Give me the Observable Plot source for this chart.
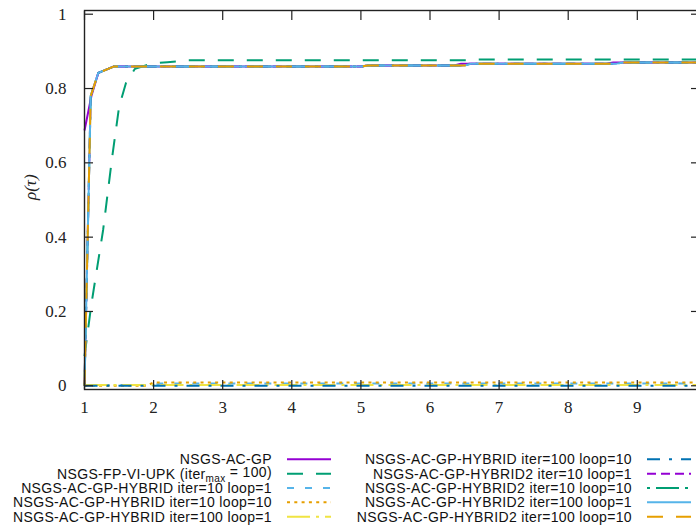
<!DOCTYPE html>
<html>
<head>
<meta charset="utf-8">
<script src="https://cdn.jsdelivr.net/npm/d3@7"></script>
<script src="https://cdn.jsdelivr.net/npm/@observablehq/plot@0.6"></script>
<style>
  html, body { margin: 0; padding: 0; background: #fff; }
  #wrap { width: 696px; height: 531px; overflow: hidden; position: relative; }
  #wrap svg { display: block; }
</style>
</head>
<body>
<div id="wrap"></div>
<script>
// ---- data ----
const seriesNames = [
  "NSGS-AC-GP",
  "NSGS-FP-VI-UPK (iter_max = 100)",
  "NSGS-AC-GP-HYBRID iter=10 loop=1",
  "NSGS-AC-GP-HYBRID iter=10 loop=10",
  "NSGS-AC-GP-HYBRID iter=100 loop=1",
  "NSGS-AC-GP-HYBRID iter=100 loop=10",
  "NSGS-AC-GP-HYBRID2 iter=10 loop=1",
  "NSGS-AC-GP-HYBRID2 iter=10 loop=10",
  "NSGS-AC-GP-HYBRID2 iter=100 loop=1",
  "NSGS-AC-GP-HYBRID2 iter=100 loop=10"
];
const tauACGP = [1, 1.1, 1.2, 1.42, 5.0, 5.1, 6.35, 6.45, 8.55, 8.65, 9.9];
const rhoACGP = [0.687, 0.78, 0.842, 0.859, 0.859, 0.862, 0.862, 0.867, 0.867, 0.870, 0.870];
const tauFPVI = [1, 1.1, 1.27, 1.4, 1.5, 1.6, 1.73, 1.97, 2.2, 2.5, 6.6, 6.7, 9.9];
const rhoFPVI = [0.08, 0.22, 0.42, 0.615, 0.75, 0.815, 0.853, 0.867, 0.871, 0.876, 0.876, 0.878, 0.878];
const tauH10_1 = [1, 2.0, 2.1, 9.9];
const rhoH10_1 = [0.002, 0.002, 0.006, 0.006];
const tauH10_10 = [1, 1.9, 2.0, 9.9];
const rhoH10_10 = [0.0, 0.0, 0.009, 0.009];
const tauH100_1 = [1, 9.9];
const rhoH100_1 = [0.002, 0.002];
const tauH100_10 = [1, 9.9];
const rhoH100_10 = [0.0, 0.0];
const tauH2_10_1 = [1, 1.09, 1.2, 1.42, 5.0, 5.1, 6.45, 6.55, 8.65, 8.75, 9.9];
const rhoH2_10_1 = [0.0, 0.78, 0.842, 0.859, 0.859, 0.862, 0.862, 0.867, 0.867, 0.870, 0.870];
const tauH2_10_10 = [1, 1.09, 1.2, 1.42, 5.0, 5.1, 6.5, 6.6, 8.7, 8.8, 9.9];
const rhoH2_10_10 = [0.0, 0.78, 0.842, 0.859, 0.859, 0.862, 0.862, 0.867, 0.867, 0.870, 0.870];
const tauH2_100_1 = [1, 1.09, 1.2, 1.42, 5.0, 5.1, 6.5, 6.6, 8.7, 8.8, 9.9];
const rhoH2_100_1 = [0.0, 0.78, 0.842, 0.859, 0.859, 0.862, 0.862, 0.867, 0.867, 0.870, 0.870];
const tauH2_100_10 = [1, 1.09, 1.2, 1.42, 5.0, 5.1, 6.5, 6.6, 8.7, 8.8, 9.9];
const rhoH2_100_10 = [0.0, 0.78, 0.842, 0.859, 0.859, 0.862, 0.862, 0.867, 0.867, 0.870, 0.870];
const xTicks = [1, 2, 3, 4, 5, 6, 7, 8, 9];
const yTicks = [0, 0.2, 0.4, 0.6, 0.8, 1];

// ---- styles ----
const seriesColors = ["#9400d3", "#009e73", "#56b4e9", "#e69f00", "#f0e442", "#0072b2", "#9400d3", "#009e73", "#56b4e9", "#e69f00"];
const seriesDash = [null, "16,13", "7,11", "3,4.3", "23,6,3,6", "13,9,3,9", "9,5", "3,6,23,6", null, "16,13"];

const taus = [tauACGP, tauFPVI, tauH10_1, tauH10_10, tauH100_1, tauH100_10, tauH2_10_1, tauH2_10_10, tauH2_100_1, tauH2_100_10];
const rhos = [rhoACGP, rhoFPVI, rhoH10_1, rhoH10_10, rhoH100_1, rhoH100_10, rhoH2_10_1, rhoH2_10_10, rhoH2_100_1, rhoH2_100_10];

const tables = taus.map((t, i) => t.map((x, j) => ({tau: x, rho: rhos[i][j], name: seriesNames[i]})));

const lineMarks = tables.map((tb, i) => Plot.line(tb, {
  x: "tau", y: "rho", stroke: seriesColors[i], strokeWidth: 2,
  strokeDasharray: seriesDash[i] || undefined, strokeLinecap: "butt", strokeLinejoin: "round"
}));

const serif = "'Liberation Serif', 'DejaVu Serif', serif";

const chart = Plot.plot({
  width: 696,
  height: 428,
  marginLeft: 84,
  marginRight: -3,
  marginTop: 10,
  marginBottom: 39,
  style: {fontFamily: serif, fontSize: "17px", color: "#222", background: "#fff", overflow: "hidden"},
  x: {domain: [1, 9.9]},
  y: {domain: [-0.01, 1.01]},
  marks: [
    ...lineMarks,
    Plot.frame({stroke: "#222", strokeWidth: 1.4}),
    Plot.axisX({ticks: xTicks, tickSize: -9, tickFormat: () => "", label: null, strokeWidth: 1.2}),
    Plot.axisX({anchor: "top", ticks: xTicks, tickSize: -9, tickFormat: () => "", label: null, strokeWidth: 1.2}),
    Plot.axisX({ticks: xTicks, tickSize: 0, tickPadding: 11, label: null, fontSize: 17}),
    Plot.axisY({ticks: yTicks, tickSize: -9, tickFormat: () => "", label: null, strokeWidth: 1.2}),
    Plot.axisY({anchor: "right", ticks: yTicks, tickSize: -9, tickFormat: () => "", label: null, strokeWidth: 1.2}),
    Plot.axisY({ticks: yTicks, tickSize: 0, tickPadding: 18, label: null, fontSize: 17, tickFormat: d => String(d)}),
    Plot.text(["ρ(τ)"], {frameAnchor: "left", dx: -54, rotate: -90, fontStyle: "italic", fontSize: 17, fill: "#222"})
  ]
});
document.getElementById("wrap").appendChild(chart);

// ---- legend (below the plot) ----
const legH = 531 - 428;
const leg = d3.create("svg").attr("width", 696).attr("height", legH)
  .style("font-family", "'Liberation Sans', Arial, sans-serif").style("font-size", "14px")
  .style("letter-spacing", "0.35px");
const rowY0 = 459.3 - 428, rowDy = 14.35;
seriesNames.forEach((name, i) => {
  const col = i < 5 ? 0 : 1;
  const row = i % 5;
  const y = rowY0 + row * rowDy;
  const textRight = col === 0 ? 272 : 632;
  const sx0 = col === 0 ? 287 : 647;
  const t = leg.append("text").attr("x", textRight).attr("y", y).attr("dy", "0.36em")
    .attr("text-anchor", "end").attr("fill", "#111");
  if (name.includes("iter_max")) {
    t.append("tspan").text("NSGS-FP-VI-UPK (iter");
    t.append("tspan").attr("dy", "0.3em").attr("font-size", "10px").text("max");
    t.append("tspan").attr("dy", "-0.3em").text(" = 100)");
  } else {
    t.text(name);
  }
  leg.append("line").attr("x1", sx0).attr("x2", sx0 + 44).attr("y1", y).attr("y2", y)
    .attr("stroke", seriesColors[i]).attr("stroke-width", 2)
    .attr("stroke-dasharray", seriesDash[i]).attr("stroke-linecap", "butt");
});
document.getElementById("wrap").appendChild(leg.node());
</script>
</body>
</html>
